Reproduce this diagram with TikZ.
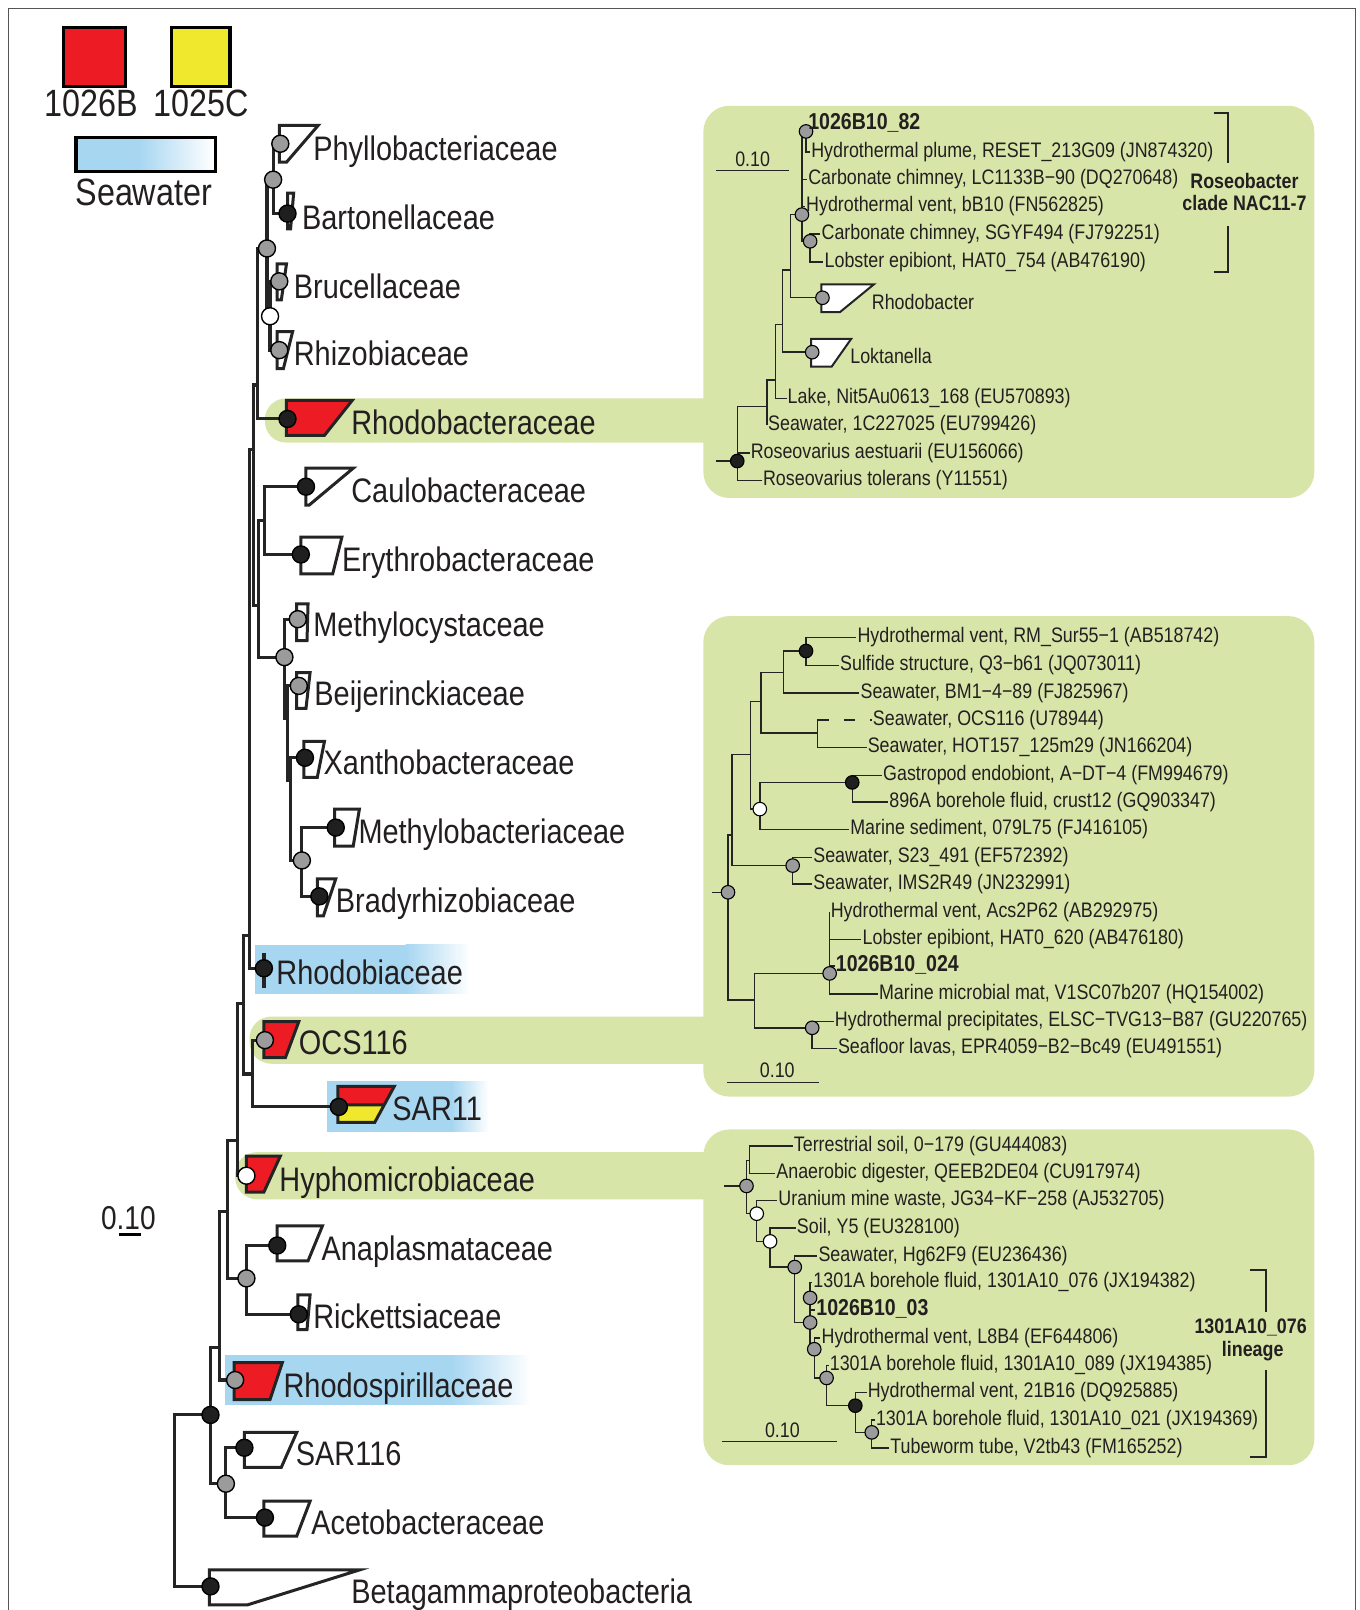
\documentclass[tikz,border=0pt]{standalone}
\usepackage{fontspec}
\newfontfamily\labfont{Liberation Sans}[FakeStretch=0.85]
\usetikzlibrary{calc}
\definecolor{bandgreen}{HTML}{D8E5A8}
\definecolor{bandblue}{HTML}{A7D6F1}
\definecolor{cladered}{HTML}{ED1C24}
\definecolor{cladeyellow}{HTML}{F0E82C}
\definecolor{dotgrey}{HTML}{9B9B9B}
\definecolor{dotblack}{HTML}{1F1F1F}
\definecolor{treeline}{HTML}{242424}
\definecolor{inkdark}{HTML}{231F20}
\definecolor{framegrey}{HTML}{555555}

\begin{document}
\begin{tikzpicture}[
  x=1.0264pt,y=-1.0264pt,
  branch/.style={draw=treeline,line width=3.1pt},
  twig/.style={draw=treeline,line width=1.45pt},
  clade/.style={draw=treeline,line width=3pt,fill=white},
  minclade/.style={draw=treeline,line width=2pt,fill=white},
  gdot/.style={draw=black,line width=1.4pt,fill=dotgrey},
  bdot/.style={draw=black,line width=1.4pt,fill=dotblack},
  wdot/.style={draw=black,line width=1.4pt,fill=white},
  taxon/.style={anchor=west,inner sep=0pt,text=inkdark,
    font=\labfont\fontsize{34}{40}\selectfont,text height=24pt,text depth=7pt},
  leaf/.style={anchor=west,inner sep=1pt,text=inkdark,
    font=\labfont\fontsize{21}{25}\selectfont,text height=15pt,text depth=4.5pt},
  bleaf/.style={leaf,font=\labfont\bfseries\fontsize{23}{27}\selectfont},
  tag/.style={text=inkdark,font=\labfont\bfseries\fontsize{21}{25}\selectfont,inner sep=0pt},
  legend/.style={text=inkdark,font=\labfont\fontsize{38}{44}\selectfont,inner sep=0pt}
]
\useasboundingbox (0,0) rectangle (1324,1568);
\fill[white] (0,0) rectangle (1324,1568);
\draw[framegrey,line width=1pt] (8,1568) -- (8,8) -- (1320,8) -- (1320,1568);

% Legend: sample colours and the seawater band.
\draw[line width=3.5pt,fill=cladered] (62,27) rectangle (122,84);
\draw[line width=3.5pt,fill=cladeyellow] (167,27) rectangle (224,84);
\node[legend] (lg1026) at (89,101) {1026B};
\node[legend] (lg1025) at (196,101) {1025C};
\fill[bandblue] (74,134) rectangle (135,167);
\shade[left color=bandblue,right color=white] (135,134) rectangle (208,167);
\draw[line width=3.5pt] (74,134) rectangle (210,167);
\node[legend] (lgsea) at (140,187) {Seawater};

% Highlight bands and the three expanded subtrees.
\fill[bandgreen,rounded corners=21] (258,388) rectangle (720,431);
\fill[bandgreen,rounded corners=22] (243,990) rectangle (720,1036);
\fill[bandgreen,rounded corners=22] (229,1122) rectangle (720,1168);
\fill[bandgreen,rounded corners=26] (685,103) rectangle (1280,485);
\fill[bandgreen,rounded corners=26] (685,600) rectangle (1280,1068);
\fill[bandgreen,rounded corners=26] (685,1100) rectangle (1280,1427);
\fill[bandblue] (248,920) rectangle (395,968);
\shade[left color=bandblue,right color=white] (395,920) rectangle (458,968);
\fill[bandblue] (318,1053) rectangle (440,1102);
\shade[left color=bandblue,right color=white] (440,1053) rectangle (476,1102);
\fill[bandblue] (219,1320) rectangle (440,1368);
\shade[left color=bandblue,right color=white] (440,1320) rectangle (517,1368);

% Main tree: clade roots and internal nodes.
\coordinate (phy) at (273,140);  \coordinate (bar) at (280,208);
\coordinate (bru) at (272,274);  \coordinate (rhz) at (272,341);
\coordinate (rba) at (280,408);  \coordinate (cau) at (298,474);
\coordinate (ery) at (293,540);  \coordinate (mcy) at (290,603);
\coordinate (bei) at (291,668);  \coordinate (xan) at (297,738);
\coordinate (mba) at (327,806);  \coordinate (bra) at (311,873);
\coordinate (rbi) at (257,943);  \coordinate (ocs) at (258,1013);
\coordinate (sar) at (330,1078); \coordinate (hyp) at (240,1145);
\coordinate (ana) at (270,1213); \coordinate (ric) at (291,1280);
\coordinate (rsp) at (229,1344); \coordinate (s116) at (238,1410);
\coordinate (ace) at (258,1478); \coordinate (bgp) at (205,1545);
\coordinate (n1) at (266,175);   \coordinate (n2) at (263,308);
\coordinate (n3) at (260,242);   \coordinate (t1) at (251,375);
\coordinate (ce) at (258,507);   \coordinate (m1) at (277,640);
\coordinate (m2) at (280,700);   \coordinate (m3) at (283,760);
\coordinate (m4) at (294,838);   \coordinate (tc) at (252,590);
\coordinate (t2) at (247,438);   \coordinate (t3) at (243,911);
\coordinate (os) at (246,1046);  \coordinate (t4) at (237,977);
\coordinate (t5) at (231,1111);  \coordinate (ar) at (240,1245);
\coordinate (t6) at (222,1180);  \coordinate (t7) at (214,1312);
\coordinate (sa) at (220,1445);  \coordinate (t8) at (205,1378);
\coordinate (root) at (170,1460);

\draw[branch] (n1) |- (phy) (n1) |- (bar) (n2) |- (bru) (n2) |- (rhz);
\draw[branch] (n3) |- (n1) (n3) |- (n2) (t1) |- (n3) (t1) |- (rba);
\draw[branch] (ce) |- (cau) (ce) |- (ery) (m4) |- (mba) (m4) |- (bra);
\draw[branch] (m3) |- (xan) (m3) |- (m4) (m2) |- (bei) (m2) |- (m3);
\draw[branch] (m1) |- (mcy) (m1) |- (m2) (tc) |- (ce) (tc) |- (m1);
\draw[branch] (t2) |- (t1) (t2) |- (tc) (t3) |- (t2) (t3) |- (rbi);
\draw[branch] (os) |- (ocs) (os) |- (sar) (t4) |- (t3) (t4) |- (os);
\draw[branch] (t5) |- (t4) (t5) |- (hyp) (ar) |- (ana) (ar) |- (ric);
\draw[branch] (t6) |- (t5) (t6) |- (ar) (t7) |- (t6) (t7) |- (rsp);
\draw[branch] (sa) |- (s116) (sa) |- (ace) (t8) |- (t7) (t8) |- (sa);
\draw[branch] (root) |- (t8) (root) |- (bgp);

% Collapsed clades.
\draw[clade] (272,122) -- (310,122) -- (279,158) -- (272,158) -- cycle;
\draw[clade] (280,188) -- (286,188) -- (283,223) -- (280,223) -- cycle;
\draw[clade] (270,257) -- (279,257) -- (274,292) -- (270,292) -- cycle;
\draw[clade] (270,323) -- (285,323) -- (276,359) -- (270,359) -- cycle;
\draw[clade,fill=cladered] (279,390) -- (343,390) -- (316,424) -- (279,424) -- cycle;
\draw[clade] (298,456) -- (344,456) -- (301,492) -- (298,492) -- cycle;
\draw[clade] (293,523) -- (333,523) -- (324,559) -- (293,559) -- cycle;
\draw[clade] (289,588) -- (300,588) -- (299,624) -- (289,624) -- cycle;
\draw[clade] (289,655) -- (302,655) -- (298,690) -- (289,690) -- cycle;
\draw[clade] (296,722) -- (316,722) -- (309,757) -- (296,757) -- cycle;
\draw[clade] (326,788) -- (350,788) -- (344,824) -- (326,824) -- cycle;
\draw[clade] (309,856) -- (327,856) -- (315,892) -- (309,892) -- cycle;
\draw[branch,line width=3.8pt] (257,928) -- (257,962);
\draw[clade,fill=cladered] (257,995) -- (291,995) -- (278,1030) -- (257,1030) -- cycle;
\fill[cladered] (329,1058) -- (384,1058) -- (374,1076) -- (329,1076) -- cycle;
\fill[cladeyellow] (329,1076) -- (374,1076) -- (365,1093) -- (329,1093) -- cycle;
\draw[clade,fill=none] (329,1058) -- (384,1058) -- (365,1093) -- (329,1093) -- cycle
  (329,1076) -- (374,1076);
\draw[clade,fill=cladered] (240,1126) -- (273,1126) -- (257,1161) -- (240,1161) -- cycle;
\draw[clade] (270,1194) -- (314,1194) -- (300,1228) -- (270,1228) -- cycle;
\draw[clade] (290,1261) -- (302,1261) -- (299,1295) -- (290,1295) -- cycle;
\draw[clade,fill=cladered] (228,1327) -- (275,1327) -- (263,1363) -- (228,1363) -- cycle;
\draw[clade] (238,1395) -- (289,1395) -- (274,1429) -- (238,1429) -- cycle;
\draw[clade] (257,1462) -- (302,1462) -- (289,1496) -- (257,1496) -- cycle;
\draw[clade] (204,1529) -- (350,1529) -- (241,1563) -- (204,1563) -- cycle;

% Support values on the main tree.
\draw[gdot] (phy) circle[radius=8.3];  \draw[gdot] (n1) circle[radius=8.3];
\draw[bdot] (bar) circle[radius=8.3];  \draw[gdot] (n3) circle[radius=8.3];
\draw[gdot] (bru) circle[radius=8.3];  \draw[wdot] (n2) circle[radius=8.3];
\draw[gdot] (rhz) circle[radius=8.3];  \draw[bdot] (rba) circle[radius=8.3];
\draw[bdot] (cau) circle[radius=8.3];  \draw[bdot] (ery) circle[radius=8.3];
\draw[gdot] (mcy) circle[radius=8.3];  \draw[gdot] (m1) circle[radius=8.3];
\draw[gdot] (bei) circle[radius=8.3];  \draw[bdot] (xan) circle[radius=8.3];
\draw[bdot] (mba) circle[radius=8.3];  \draw[gdot] (m4) circle[radius=8.3];
\draw[bdot] (bra) circle[radius=8.3];  \draw[bdot] (rbi) circle[radius=8.3];
\draw[gdot] (ocs) circle[radius=8.3];  \draw[bdot] (sar) circle[radius=8.3];
\draw[wdot] (hyp) circle[radius=8.3];  \draw[bdot] (ana) circle[radius=8.3];
\draw[gdot] (ar) circle[radius=8.3];   \draw[bdot] (ric) circle[radius=8.3];
\draw[gdot] (rsp) circle[radius=8.3];  \draw[bdot] (t8) circle[radius=8.3];
\draw[bdot] (s116) circle[radius=8.3]; \draw[gdot] (sa) circle[radius=8.3];
\draw[bdot] (ace) circle[radius=8.3];  \draw[bdot] (bgp) circle[radius=8.3];

% Family names.
\node[taxon] (phyL) at (305,148) {Phyllobacteriaceae};
\node[taxon] (barL) at (294,215) {Bartonellaceae};
\node[taxon] (bruL) at (286,282) {Brucellaceae};
\node[taxon] (rhzL) at (286,348) {Rhizobiaceae};
\node[taxon] (rbaL) at (342,415) {Rhodobacteraceae};
\node[taxon] (cauL) at (342,481) {Caulobacteraceae};
\node[taxon] (eryL) at (333,548) {Erythrobacteraceae};
\node[taxon] (mcyL) at (305,612) {Methylocystaceae};
\node[taxon] (beiL) at (306,679) {Beijerinckiaceae};
\node[taxon] (xanL) at (315,746) {Xanthobacteraceae};
\node[taxon] (mbaL) at (349,813) {Methylobacteriaceae};
\node[taxon] (braL) at (327,880) {Bradyrhizobiaceae};
\node[taxon] (rbiL) at (269,951) {Rhodobiaceae};
\node[taxon] (ocsL) at (291,1019) {OCS116};
\node[taxon] (sarL) at (382,1083) {SAR11};
\node[taxon] (hypL) at (272,1152) {Hyphomicrobiaceae};
\node[taxon] (anaL) at (313,1219) {Anaplasmataceae};
\node[taxon] (ricL) at (305,1286) {Rickettsiaceae};
\node[taxon] (rspL) at (276,1353) {Rhodospirillaceae};
\node[taxon] (s116L) at (288,1419) {SAR116};
\node[taxon] (aceL) at (303,1486) {Acetobacteraceae};
\node[taxon] (bgpL) at (342,1553) {Betagammaproteobacteria};

\node[legend,font=\labfont\fontsize{33}{40}\selectfont] (scaleM) at (125,1186) {0.10};
\draw[line width=2.6pt] (116,1202) -- (137,1202);

% Inset 1: Rhodobacteraceae.
\coordinate (l82) at (786,121);   \coordinate (plume) at (789,148);
\coordinate (lc) at (786,175);    \coordinate (bb) at (784,201);
\coordinate (sg) at (799,228);    \coordinate (lob) at (802,255);
\coordinate (lake) at (766,388);  \coordinate (sea1) at (747,414);
\coordinate (aes) at (730,441);   \coordinate (tol) at (742,468);
\coordinate (a) at (785,128);     \coordinate (v) at (781,209);
\coordinate (c) at (789,235);     \coordinate (r1) at (770,263);
\coordinate (rdb) at (801,290);   \coordinate (r2) at (762,316);
\coordinate (lok) at (791,343);   \coordinate (r3) at (755,370);
\coordinate (r4) at (747,396);    \coordinate (root1) at (718,449);
\coordinate (stub1) at (697,449);

\draw[twig] (a) |- (l82) (a) |- (plume) (v) |- (a) (v) |- (lc) (v) |- (bb) (v) |- (c);
\draw[twig] (c) |- (sg) (c) |- (lob) (r1) |- (v) (r1) |- (rdb) (r2) |- (r1) (r2) |- (lok);
\draw[twig] (r3) |- (r2) (r3) |- (lake) (r4) |- (r3) (r4) |- (sea1);
\draw[twig] (root1) |- (r4) (root1) |- (aes) (root1) |- (tol) (stub1) -- (root1);
\draw[minclade] (800,277) -- (851,277) -- (818,304) -- (800,304) -- cycle;
\draw[minclade] (790,330) -- (829,330) -- (810,357) -- (790,357) -- cycle;
\draw[gdot,line width=1.1pt] (a) circle[radius=6.6];
\draw[gdot,line width=1.1pt] (v) circle[radius=6.6];
\draw[gdot,line width=1.1pt] (c) circle[radius=6.6];
\draw[gdot,line width=1.1pt] (rdb) circle[radius=6.6];
\draw[gdot,line width=1.1pt] (lok) circle[radius=6.6];
\draw[bdot,line width=1.1pt] (root1) circle[radius=6.6];

\node[bleaf] (l82L) at (l82) {1026B10\_82};
\node[leaf] (plumeL) at (plume) {Hydrothermal plume, RESET\_213G09 (JN874320)};
\node[leaf] (lcL) at (lc) {Carbonate chimney, LC1133B−90 (DQ270648)};
\node[leaf] (bbL) at (bb) {Hydrothermal vent, bB10 (FN562825)};
\node[leaf] (sgL) at (sg) {Carbonate chimney, SGYF494 (FJ792251)};
\node[leaf] (lobL) at (lob) {Lobster epibiont, HAT0\_754 (AB476190)};
\node[leaf] (rdbL) at (848,296) {Rhodobacter};
\node[leaf] (lokL) at (827,349) {Loktanella};
\node[leaf] (lakeL) at (lake) {Lake, Nit5Au0613\_168 (EU570893)};
\node[leaf] (sea1L) at (sea1) {Seawater, 1C227025 (EU799426)};
\node[leaf] (aesL) at (aes) {Roseovarius aestuarii (EU156066)};
\node[leaf] (tolL) at (tol) {Roseovarius tolerans (Y11551)};
\draw[twig] (697,166) -- (768,166);
\node[leaf,anchor=center] (scale1) at (733,157) {0.10};
\draw[twig,line width=1.6pt] (1182,110) -- (1196,110) -- (1196,159)
  (1196,220) -- (1196,265) -- (1182,265);
\node[tag] (roseo) at (1212,176) {Roseobacter};
\node[tag] (nac) at (1212,198) {clade NAC11-7};

% Inset 2: OCS116.
\coordinate (hrm) at (834,621);   \coordinate (sul) at (817,648);
\coordinate (bm1) at (837,675);   \coordinate (ocs2) at (849,701);
\coordinate (hot) at (844,728);   \coordinate (gas) at (859,755);
\coordinate (bor) at (865,781);   \coordinate (msd) at (827,808);
\coordinate (s23) at (791,835);   \coordinate (ims) at (791,861);
\coordinate (acs) at (808,888);   \coordinate (lob2) at (839,915);
\coordinate (b024) at (813,941);  \coordinate (mat) at (855,968);
\coordinate (hpr) at (812,995);   \coordinate (sfl) at (815,1021);
\coordinate (h1) at (785,634);    \coordinate (h2) at (763,655);
\coordinate (h3) at (796,714);    \coordinate (h4) at (741,683);
\coordinate (g1) at (830,762);    \coordinate (w1) at (740,788);
\coordinate (h5) at (731,735);    \coordinate (s1) at (772,843);
\coordinate (h6) at (713,813);    \coordinate (a1) at (808,948);
\coordinate (p1) at (791,1001);   \coordinate (h7) at (735,974);
\coordinate (root2) at (709,869); \coordinate (stub2) at (693,869);

\draw[twig] (h1) |- (hrm) (h1) |- (sul) (h2) |- (h1) (h2) |- (bm1);
\draw[twig] (h3) -- (h3 |- ocs2) (h3) |- (hot) (h4) |- (h2) (h4) |- (h3);
\draw[twig,dash pattern=on 12pt off 15pt on 11pt off 15pt on 2pt off 20pt] (h3 |- ocs2) -- (ocs2);
\draw[twig] (g1) |- (gas) (g1) |- (bor) (w1) |- (g1) (w1) |- (msd);
\draw[twig] (h5) |- (h4) (h5) |- (w1) (s1) |- (s23) (s1) |- (ims) (h6) |- (h5) (h6) |- (s1);
\draw[twig] (a1) |- (acs) (a1) |- (lob2) (a1) |- (b024) (a1) |- (mat);
\draw[twig] (p1) |- (hpr) (p1) |- (sfl) (h7) |- (a1) (h7) |- (p1);
\draw[twig] (root2) |- (h6) (root2) |- (h7) (stub2) -- (root2);
\draw[bdot,line width=1.1pt] (h1) circle[radius=6.6];
\draw[bdot,line width=1.1pt] (g1) circle[radius=6.6];
\draw[wdot,line width=1.1pt] (w1) circle[radius=6.6];
\draw[gdot,line width=1.1pt] (s1) circle[radius=6.6];
\draw[gdot,line width=1.1pt] (root2) circle[radius=6.6];
\draw[gdot,line width=1.1pt] (a1) circle[radius=6.6];
\draw[gdot,line width=1.1pt] (p1) circle[radius=6.6];

\node[leaf] (hrmL) at (hrm) {Hydrothermal vent, RM\_Sur55−1 (AB518742)};
\node[leaf] (sulL) at (sul) {Sulfide structure, Q3−b61 (JQ073011)};
\node[leaf] (bm1L) at (bm1) {Seawater, BM1−4−89 (FJ825967)};
\node[leaf] (ocs2L) at (ocs2) {Seawater, OCS116 (U78944)};
\node[leaf] (hotL) at (hot) {Seawater, HOT157\_125m29 (JN166204)};
\node[leaf] (gasL) at (gas) {Gastropod endobiont, A−DT−4 (FM994679)};
\node[leaf] (borL) at (bor) {896A borehole fluid, crust12 (GQ903347)};
\node[leaf] (msdL) at (msd) {Marine sediment, 079L75 (FJ416105)};
\node[leaf] (s23L) at (s23) {Seawater, S23\_491 (EF572392)};
\node[leaf] (imsL) at (ims) {Seawater, IMS2R49 (JN232991)};
\node[leaf] (acsL) at (acs) {Hydrothermal vent, Acs2P62 (AB292975)};
\node[leaf] (lob2L) at (lob2) {Lobster epibiont, HAT0\_620 (AB476180)};
\node[bleaf] (b024L) at (b024) {1026B10\_024};
\node[leaf] (matL) at (mat) {Marine microbial mat, V1SC07b207 (HQ154002)};
\node[leaf] (hprL) at (hpr) {Hydrothermal precipitates, ELSC−TVG13−B87 (GU220765)};
\node[leaf] (sflL) at (sfl) {Seafloor lavas, EPR4059−B2−Bc49 (EU491551)};
\draw[twig] (708,1054) -- (798,1054);
\node[leaf,anchor=center] (scale2) at (757,1044) {0.10};

% Inset 3: Hyphomicrobiaceae.
\coordinate (ter) at (772,1116);  \coordinate (ana2) at (755,1143);
\coordinate (ura) at (757,1169);  \coordinate (soi) at (775,1196);
\coordinate (hg) at (796,1223);   \coordinate (b076) at (791,1249);
\coordinate (b03) at (794,1276);  \coordinate (l8) at (799,1303);
\coordinate (b089) at (807,1330); \coordinate (v21) at (844,1356);
\coordinate (b021) at (852,1383); \coordinate (tub) at (866,1410);
\coordinate (q1) at (730,1130);   \coordinate (root3) at (727,1155);
\coordinate (w1b) at (737,1182);  \coordinate (w2) at (750,1209);
\coordinate (k1) at (774,1234);   \coordinate (k3) at (789,1264);
\coordinate (k2) at (789,1288);   \coordinate (k4) at (793,1314);
\coordinate (k5) at (805,1342);   \coordinate (k6) at (833,1369);
\coordinate (k7) at (849,1395);   \coordinate (stub3) at (705,1155);

\draw[twig] (q1) |- (ter) (q1) |- (ana2) (root3) |- (q1) (root3) |- (w1b) (stub3) -- (root3);
\draw[twig] (w1b) |- (ura) (w1b) |- (w2) (w2) |- (soi) (w2) |- (k1) (k1) |- (hg) (k1) |- (k2);
\draw[twig] (k2) |- (k3) (k2) |- (k4) (k3) |- (b076) (k3) |- (b03) (k4) |- (l8) (k4) |- (k5);
\draw[twig] (k5) |- (b089) (k5) |- (k6) (k6) |- (v21) (k6) |- (k7) (k7) |- (b021) (k7) |- (tub);
\draw[gdot,line width=1.1pt] (root3) circle[radius=6.6];
\draw[wdot,line width=1.1pt] (w1b) circle[radius=6.6];
\draw[wdot,line width=1.1pt] (w2) circle[radius=6.6];
\draw[gdot,line width=1.1pt] (k1) circle[radius=6.6];
\draw[gdot,line width=1.1pt] (k3) circle[radius=6.6];
\draw[gdot,line width=1.1pt] (k2) circle[radius=6.6];
\draw[gdot,line width=1.1pt] (k4) circle[radius=6.6];
\draw[gdot,line width=1.1pt] (k5) circle[radius=6.6];
\draw[bdot,line width=1.1pt] (k6) circle[radius=6.6];
\draw[gdot,line width=1.1pt] (k7) circle[radius=6.6];

\node[leaf] (terL) at (ter) {Terrestrial soil, 0−179 (GU444083)};
\node[leaf] (ana2L) at (ana2) {Anaerobic digester, QEEB2DE04 (CU917974)};
\node[leaf] (uraL) at (ura) {Uranium mine waste, JG34−KF−258 (AJ532705)};
\node[leaf] (soiL) at (soi) {Soil, Y5 (EU328100)};
\node[leaf] (hgL) at (hg) {Seawater, Hg62F9 (EU236436)};
\node[leaf] (b076L) at (b076) {1301A borehole fluid, 1301A10\_076 (JX194382)};
\node[bleaf] (b03L) at (b03) {1026B10\_03};
\node[leaf] (l8L) at (l8) {Hydrothermal vent, L8B4 (EF644806)};
\node[leaf] (b089L) at (b089) {1301A borehole fluid, 1301A10\_089 (JX194385)};
\node[leaf] (v21L) at (v21) {Hydrothermal vent, 21B16 (DQ925885)};
\node[leaf] (b021L) at (b021) {1301A borehole fluid, 1301A10\_021 (JX194369)};
\node[leaf] (tubL) at (tub) {Tubeworm tube, V2tb43 (FM165252)};
\draw[twig] (703,1404) -- (815,1404);
\node[leaf,anchor=center] (scale3) at (762,1395) {0.10};
\draw[twig,line width=1.6pt] (1217,1237) -- (1233,1237) -- (1233,1278)
  (1233,1334) -- (1233,1419) -- (1217,1419);
\node[tag] (lin1) at (1218,1293) {1301A10\_076};
\node[tag] (lin2) at (1220,1316) {lineage};
\end{tikzpicture}
\end{document}
